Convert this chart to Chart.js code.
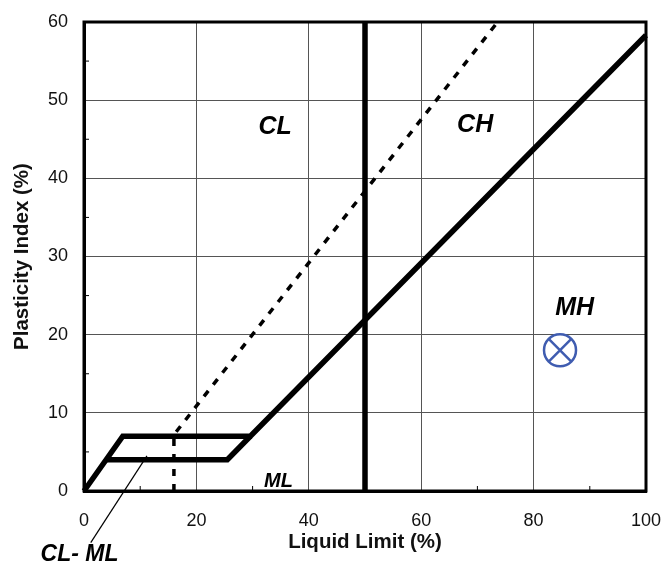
<!DOCTYPE html>
<html>
<head>
<meta charset="utf-8">
<script src="https://cdn.jsdelivr.net/npm/chart.js@4"></script>
<style>
  html, body { margin: 0; padding: 0; background: #fff; }
  #wrap { width: 667px; height: 565px; }
</style>
</head>
<body>
<div id="wrap"><canvas id="chart"></canvas></div>
<script>
// ----------------------------------------------------
// Chart data (Liquid Limit %, Plasticity Index %)
// ----------------------------------------------------
// outer boundary: left edge of CL-ML band, top of band, then A-line
const upperLL = [0, 6.9, 29.6, 100];
const upperPI = [0, 7, 7, 58.3];
// bottom of the CL-ML band back up to the A-line
const lowerLL = [4.1, 25.5, 29.6];
const lowerPI = [4, 4, 7];
// U-line (dashed)
const uLineLL = [16, 16, 73.6];
const uLinePI = [0, 7.2, 60];
// LL = 50 divider
const dividerLL = [50, 50];
const dividerPI = [0, 60];
// the sample
const sampleLL = [84.7];
const samplePI = [18];
// leader line for the CL-ML label
const leaderLL = [1.2, 11.2];
const leaderPI = [-6.6, 4.5];

// zone labels
const zoneNames = ["CL", "CH", "MH", "ML", "CL- ML"];
const zoneLL = [34, 69.6, 87.3, 34.6, -0.8];
const zonePI = [46.5, 46.8, 23.4, 1.2, -8.2];
const zoneSize = [25, 25, 25, 20, 23];

const xTicks = [0, 20, 40, 60, 80, 100];
const yTicks = [0, 10, 20, 30, 40, 50, 60];

const FONT = "'Liberation Sans', Arial, sans-serif";
const toPoints = (xs, ys) => xs.map((x, i) => ({ x: x, y: ys[i] }));

// ----------------------------------------------------
// Frame, minor ticks and zone labels
// ----------------------------------------------------
const framePlugin = {
    id: "frame",
    beforeDatasetsDraw(chart) {
        const { ctx, chartArea: a, scales } = chart;
        ctx.save();
        ctx.strokeStyle = "#000";
        ctx.lineWidth = 1;
        // minor ticks on x every 10, on y every 5
        for (let v = 10; v < 100; v += 20) {
            const px = scales.x.getPixelForValue(v);
            ctx.beginPath();
            ctx.moveTo(px, a.bottom);
            ctx.lineTo(px, a.bottom - 5);
            ctx.stroke();
        }
        for (let v = 5; v < 60; v += 10) {
            const py = scales.y.getPixelForValue(v);
            ctx.beginPath();
            ctx.moveTo(a.left, py);
            ctx.lineTo(a.left + 5, py);
            ctx.stroke();
        }
        ctx.lineWidth = 3;
        ctx.strokeRect(a.left, a.top, a.right - a.left, a.bottom - a.top);
        ctx.restore();
    },
    afterDatasetsDraw(chart) {
        const { ctx, scales } = chart;
        ctx.save();
        ctx.fillStyle = "#000";
        ctx.textAlign = "center";
        ctx.textBaseline = "middle";
        zoneNames.forEach((name, i) => {
            ctx.font = "bold italic " + zoneSize[i] + "px " + FONT;
            ctx.fillText(name, scales.x.getPixelForValue(zoneLL[i]), scales.y.getPixelForValue(zonePI[i]));
        });
        ctx.restore();
    }
};

const lineSet = (xs, ys, width, dash) => ({
    data: toPoints(xs, ys),
    showLine: true,
    borderColor: "#000",
    borderWidth: width,
    borderDash: dash || [],
    pointRadius: 0,
    fill: false,
    clip: false
});

new Chart(document.getElementById("chart"), {
    type: "scatter",
    data: {
        datasets: [
            lineSet(upperLL, upperPI, 5.5),
            lineSet(lowerLL, lowerPI, 5.5),
            lineSet(uLineLL, uLinePI, 3.5, [7, 8]),
            lineSet(dividerLL, dividerPI, 5.5),
            lineSet(leaderLL, leaderPI, 1.2),
            {
                data: toPoints(sampleLL, samplePI),
                pointStyle: "circle",
                pointRadius: 16,
                pointBorderWidth: 2.5,
                pointBorderColor: "#3f5cb0",
                pointBackgroundColor: "rgba(0,0,0,0)",
                clip: false
            },
            {
                data: toPoints(sampleLL, samplePI),
                pointStyle: "crossRot",
                pointRadius: 16,
                pointBorderWidth: 2.5,
                pointBorderColor: "#3f5cb0",
                clip: false
            }
        ]
    },
    options: {
        responsive: true,
        maintainAspectRatio: false,
        animation: false,
        layout: { padding: { top: 22, right: 21, left: 0, bottom: 0 } },
        plugins: {
            legend: { display: false },
            tooltip: { enabled: false }
        },
        scales: {
            x: {
                type: "linear",
                min: 0,
                max: 100,
                afterBuildTicks: s => { s.ticks = xTicks.map(v => ({ value: v })); },
                afterFit: s => { s.height = 74; s.paddingLeft = 0; s.paddingRight = 0; },
                grid: { color: "#555", lineWidth: 1, drawTicks: false },
                border: { display: true, color: "#000", width: 3 },
                ticks: {
                    padding: 19,
                    color: "#111",
                    maxRotation: 0,
                    font: { family: FONT, size: 18 }
                },
                title: {
                    display: true,
                    text: "Liquid Limit (%)",
                    color: "#111",
                    padding: { top: 0, bottom: 10 },
                    font: { family: FONT, size: 20.5, weight: "bold" }
                }
            },
            y: {
                type: "linear",
                min: 0,
                max: 60,
                afterBuildTicks: s => { s.ticks = yTicks.map(v => ({ value: v })); },
                afterFit: s => { s.width = 84; s.paddingTop = 0; s.paddingBottom = 0; },
                grid: { color: "#555", lineWidth: 1, drawTicks: false },
                border: { display: true, color: "#000", width: 3 },
                ticks: {
                    padding: 16,
                    color: "#111",
                    font: { family: FONT, size: 18 }
                },
                title: {
                    display: true,
                    text: "Plasticity Index (%)",
                    color: "#111",
                    padding: { top: 10, bottom: 0 },
                    font: { family: FONT, size: 20.5, weight: "bold" }
                }
            }
        }
    },
    plugins: [framePlugin]
});
</script>
</body>
</html>
